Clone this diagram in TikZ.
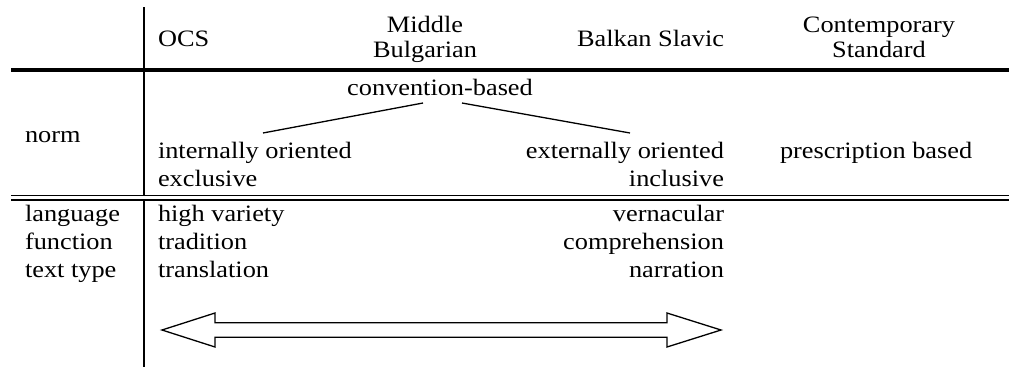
\documentclass[tikz,border=0pt]{standalone}
\usepackage{fontspec}
\setmainfont[FakeStretch=1.12]{Liberation Serif}
\begin{document}
\begin{tikzpicture}[x=1pt,y=-1pt,
  txt/.style={inner sep=0pt,outer sep=0pt,font=\fontsize{23.5}{26}\selectfont},
  lw/.style={txt,anchor=base west},
  le/.style={txt,anchor=base east},
  lc/.style={txt,anchor=base},
  rule/.style={line width=#1,line cap=butt},
  link/.style={line width=1.3pt},
  bigarrow/.style={line width=1.3pt,line join=miter}]
\useasboundingbox (0,0) rectangle (1009,367);
% rules
\draw[rule=3.3pt] (11,70) -- (1009,70);
\draw[rule=1.5pt] (11,195.3) -- (1009,195.3);
\draw[rule=2pt] (11,199.5) -- (1009,199.5);
\draw[rule=2pt] (144,7) -- (144,195.3);
\draw[rule=2pt] (144,199.5) -- (144,367);
% header
\node[lw] (ocs) at (158,46) {OCS};
\node[lc] (mid1) at (425,32) {Middle};
\node[lc] (mid2) at (425,57) {Bulgarian};
\node[le] (bal) at (724,46) {Balkan Slavic};
\node[lc] (con1) at (879,32) {Contemporary};
\node[lc] (con2) at (879,57) {Standard};
% norm row
\node[lc] (conv) at (440,95) {convention-based};
\node[lw] (norm) at (25,142) {norm};
\node[lw] (int) at (158,158) {internally oriented};
\node[lw] (excl) at (158,186) {exclusive};
\node[le] (ext) at (724,158) {externally oriented};
\node[le] (incl) at (724,186) {inclusive};
\node[lw] (pres) at (780,158) {prescription based};
\coordinate (cL) at (423,103);
\coordinate (iR) at (263,133);
\coordinate (cR) at (462,103);
\coordinate (eL) at (630,133);
\draw[link] (cL) -- (iR);
\draw[link] (cR) -- (eL);
% lower rows
\node[lw] (lang) at (25,221) {language};
\node[lw] (func) at (25,249) {function};
\node[lw] (ttype) at (25,277) {text type};
\node[lw] (high) at (158,221) {high variety};
\node[lw] (trad) at (158,249) {tradition};
\node[lw] (trans) at (158,277) {translation};
\node[le] (vern) at (724,221) {vernacular};
\node[le] (comp) at (724,249) {comprehension};
\node[le] (narr) at (724,277) {narration};
% double arrow
\draw[bigarrow] (162,330) -- (215,313) -- (215,322.7) -- (667,322.7) -- (667,313)
  -- (721,330) -- (667,347) -- (667,337.3) -- (215,337.3) -- (215,347) -- cycle;
\end{tikzpicture}
\end{document}
